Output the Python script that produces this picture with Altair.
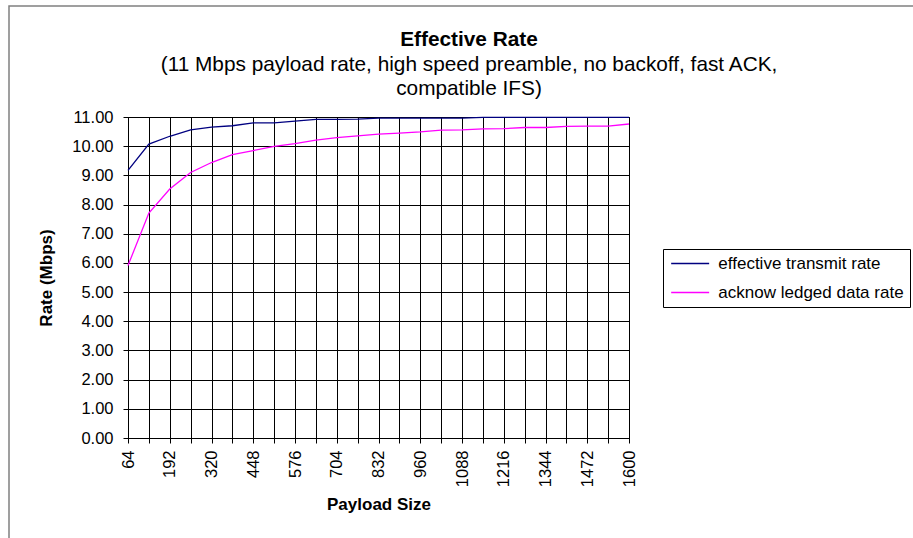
import altair as alt
import pandas as pd

# Payload sizes (bytes) on the category axis
payload_sizes = [64, 128, 192, 256, 320, 384, 448, 512, 576, 640, 704, 768, 832,
                 896, 960, 1024, 1088, 1152, 1216, 1280, 1344, 1408, 1472, 1536, 1600]

# Rates in Mbps
effective_transmit = [9.17, 10.07, 10.34, 10.56, 10.65, 10.70, 10.80, 10.80, 10.86,
                      10.92, 10.92, 10.93, 10.96, 10.96, 10.96, 10.96, 10.96, 10.99,
                      10.99, 10.99, 10.99, 10.99, 10.99, 10.99, 10.99]
acknowledged_data = [5.91, 7.71, 8.53, 9.10, 9.44, 9.71, 9.85, 9.99, 10.09, 10.21,
                     10.29, 10.35, 10.41, 10.45, 10.49, 10.55, 10.56, 10.59, 10.60,
                     10.64, 10.64, 10.68, 10.69, 10.69, 10.76]

series_names = ["effective transmit rate", "acknow ledged data rate"]
series_colors = ["#000080", "#FF00FF"]

y_ticks = [0, 1, 2, 3, 4, 5, 6, 7, 8, 9, 10, 11]

title_lines = [
    "Effective Rate",
    "(11 Mbps payload rate, high speed preamble, no backoff, fast ACK,",
    "compatible IFS)",
]

df = pd.DataFrame({
    "Payload Size": payload_sizes * 2,
    "Rate": effective_transmit + acknowledged_data,
    "Series": [series_names[0]] * len(payload_sizes) + [series_names[1]] * len(payload_sizes),
})

PLOT_W, PLOT_H = 501, 321
PAD_L, PAD_T = 128, 117
PAD_R = 913 - PAD_L - PLOT_W
PAD_B = 538 - PAD_T - PLOT_H
FONT = "Liberation Sans"
TITLE_X = 469 - PAD_L
TITLE_SIZE = 20.8

one_row = pd.DataFrame({"k": [0]})

# Chart-area border
frame = alt.Chart(one_row).mark_rect(
    fill="transparent", stroke="#808080", strokeWidth=1.5
).encode(
    x=alt.value(9 - PAD_L), x2=alt.value(913 + 20 - PAD_L),
    y=alt.value(6 - PAD_T), y2=alt.value(538 + 20 - PAD_T),
)

# Chart title block (bold heading + two subtitle lines)
heading = alt.Chart(one_row).mark_text(
    text=title_lines[0], font=FONT, fontSize=TITLE_SIZE, fontWeight="bold",
    color="black", align="center", baseline="middle",
).encode(x=alt.value(TITLE_X), y=alt.value(39.5 - PAD_T))

sub1 = alt.Chart(one_row).mark_text(
    text=title_lines[1], font=FONT, fontSize=TITLE_SIZE,
    color="black", align="center", baseline="middle",
).encode(x=alt.value(TITLE_X), y=alt.value(64.5 - PAD_T))

sub2 = alt.Chart(one_row).mark_text(
    text=title_lines[2], font=FONT, fontSize=TITLE_SIZE,
    color="black", align="center", baseline="middle",
).encode(x=alt.value(TITLE_X), y=alt.value(89 - PAD_T))

# Legend key: a short horizontal stroke drawn to the right of the symbol anchor,
# so the entry stays compact while the key line is long.
KEY_R = 6.33
legend_key = "M-1,0H5"

lines = alt.Chart(df).mark_line(strokeWidth=1.3).encode(
    x=alt.X(
        "Payload Size:Q",
        scale=alt.Scale(domain=[64, 1600], nice=False, zero=False),
        axis=alt.Axis(
            values=payload_sizes, format="d",
            labelExpr="datum.value % 128 == 64 ? datum.label : ''",
            labelAngle=270, labelAlign="right", labelBaseline="middle",
            labelPadding=7, title="Payload Size", titlePadding=10,
        ),
    ),
    y=alt.Y(
        "Rate:Q",
        scale=alt.Scale(domain=[0, 11], nice=False),
        axis=alt.Axis(values=y_ticks, format=".2f", labelPadding=10,
                      title="Rate (Mbps)", titlePadding=16),
    ),
    color=alt.Color(
        "Series:N",
        scale=alt.Scale(domain=series_names, range=series_colors),
        legend=alt.Legend(
            title=None, orient="none", legendX=535, legendY=132,
            symbolType=legend_key, symbolSize=(2 * KEY_R) ** 2, symbolStrokeWidth=1.3,
            symbolFillColor="transparent",
            labelOffset=38 + 7 - 2 * KEY_R, labelFontSize=17, labelFont=FONT,
            labelColor="black", labelLimit=0,
            strokeColor="black", fillColor="white", padding=6, rowPadding=11,
        ),
    ),
)

chart = alt.layer(frame, heading, sub1, sub2, lines).properties(
    width=PLOT_W, height=PLOT_H,
    autosize="none",
    padding={"left": PAD_L, "top": PAD_T, "right": PAD_R, "bottom": PAD_B},
).configure(
    font=FONT, background="white"
).configure_view(
    stroke="black", strokeWidth=1
).configure_axis(
    labelFont=FONT, labelFontSize=16.5, labelColor="black",
    titleFont=FONT, titleFontSize=17, titleFontWeight="bold", titleColor="black",
    gridColor="black", gridOpacity=1, gridWidth=1,
    domainColor="black", tickColor="black", tickSize=5, labelOverlap=False,
)

chart.save("out.html", embed_options={"renderer": "svg", "actions": False})
